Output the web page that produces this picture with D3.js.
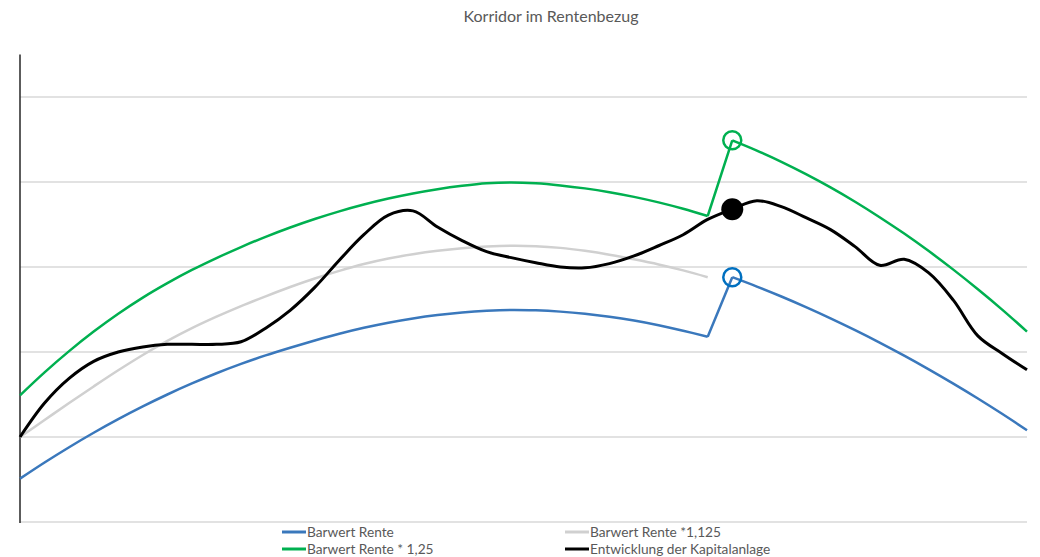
<!DOCTYPE html>
<html>
<head>
<meta charset="utf-8">
<script src="https://cdn.jsdelivr.net/npm/d3@7"></script>
<style>
  body { margin: 0; background: #fff; }
  text { font-family: Lato, "Open Sans", sans-serif; fill: #595959; }
</style>
</head>
<body>
<svg width="1040" height="557"></svg>
<script>
// Categories (years of retirement, no labels shown)
const years = d3.range(42);

// Series values
const barwert = [0.51, 0.70, 0.88, 1.05, 1.21, 1.36, 1.50, 1.63, 1.75, 1.86,
  1.96, 2.05, 2.135, 2.215, 2.285, 2.345, 2.395, 2.435, 2.465, 2.485,
  2.495, 2.49, 2.475, 2.45, 2.415, 2.37, 2.315, 2.25, 2.18, 2.88,
  2.77, 2.653, 2.528, 2.396, 2.257, 2.111, 1.957, 1.796, 1.628, 1.453,
  1.27, 1.08];

const barwert1125 = [1.00, 1.20, 1.40, 1.595, 1.785, 1.965, 2.13, 2.28, 2.415, 2.54,
  2.655, 2.765, 2.865, 2.955, 3.035, 3.10, 3.15, 3.19, 3.22, 3.24,
  3.25, 3.245, 3.225, 3.19, 3.145, 3.09, 3.03, 2.96, 2.88];

const barwert125 = [1.49, 1.76, 2.01, 2.24, 2.45, 2.64, 2.81, 2.965, 3.105, 3.235,
  3.355, 3.465, 3.565, 3.655, 3.735, 3.805, 3.865, 3.915, 3.955, 3.985,
  3.995, 3.985, 3.96, 3.925, 3.88, 3.825, 3.76, 3.685, 3.60, 4.49,
  4.37, 4.238, 4.093, 3.937, 3.768, 3.586, 3.393, 3.187, 2.969, 2.738,
  2.496, 2.24];

const kapital = [1.00, 1.40, 1.69, 1.89, 2.00, 2.06, 2.09, 2.09, 2.09, 2.12,
  2.28, 2.49, 2.76, 3.08, 3.38, 3.61, 3.66, 3.47, 3.31, 3.18,
  3.11, 3.05, 3.00, 2.99, 3.04, 3.13, 3.25, 3.38, 3.56, 3.68,
  3.78, 3.71, 3.58, 3.44, 3.24, 3.02, 3.09, 2.93, 2.61, 2.19,
  1.98, 1.79];

const yTicks = [0, 1, 2, 3, 4, 5];
const markerIndex = 29;

const svg = d3.select("svg");

const x = d3.scalePoint().domain(years).range([20, 1027]);
const y = d3.scaleLinear().domain([0, 5.5]).range([522, 54.5]);

// Gridlines
svg.append("g")
  .selectAll("line")
  .data(yTicks)
  .enter().append("line")
  .attr("x1", 20)
  .attr("x2", 1027)
  .attr("y1", d => y(d))
  .attr("y2", d => y(d))
  .style("stroke", "#d9d9d9")
  .style("stroke-width", 1.5);

// Left axis
svg.append("line")
  .attr("x1", 20).attr("x2", 20)
  .attr("y1", y(5.5)).attr("y2", y(0) + 1)
  .style("stroke", "#262626")
  .style("stroke-width", 1.5);

const series = [
  { name: "Barwert Rente", values: barwert, color: "#3a78bc", width: 2.5, marker: "#0070c0" },
  { name: "Barwert Rente *1,125", values: barwert1125, color: "#d0d0d0", width: 2.5 },
  { name: "Barwert Rente * 1,25", values: barwert125, color: "#00b050", width: 2.5, marker: "#00b050" },
  { name: "Entwicklung der Kapitalanlage", values: kapital, color: "#000000", width: 3, smooth: true, marker: "#000000", filled: true }
];

const pts = vals => vals.map((v, i) => [x(years[i]), y(v)]);
const smooth = d3.curveCatmullRom.alpha(0.5);

series.forEach(s => {
  const p = pts(s.values);
  let pieces;
  if (s.smooth) {
    pieces = [{ d: p, curve: smooth }];
  } else {
    // smooth curve on each side of the jump, straight jump in between
    pieces = [{ d: p.slice(0, markerIndex), curve: smooth }];
    if (p.length > markerIndex) {
      pieces.push({ d: p.slice(markerIndex - 1, markerIndex + 1), curve: d3.curveLinear });
      pieces.push({ d: p.slice(markerIndex), curve: smooth });
    }
  }
  const path = pieces.map(pc => d3.line().curve(pc.curve)(pc.d)).join("");

  svg.append("path")
    .attr("d", path)
    .style("fill", "none")
    .style("stroke", s.color)
    .style("stroke-width", s.width)
    .style("stroke-linejoin", "round");
});

// Markers at the switching year
series.filter(s => s.marker).forEach(s => {
  svg.append("circle")
    .attr("cx", x(years[markerIndex]))
    .attr("cy", y(s.values[markerIndex]))
    .attr("r", s.filled ? 11 : 9)
    .style("fill", s.filled ? s.marker : "none")
    .style("stroke", s.marker)
    .style("stroke-width", s.filled ? 0 : 2.5);
});

// Title
svg.append("text")
  .attr("x", 551)
  .attr("y", 22)
  .attr("text-anchor", "middle")
  .style("font-size", "16px")
  .text("Korridor im Rentenbezug");

// Legend
const legendPos = [
  { x: 282, y: 532 },
  { x: 565, y: 532 },
  { x: 282, y: 549 },
  { x: 565, y: 549 }
];

const legend = svg.append("g")
  .selectAll("g")
  .data(series)
  .enter().append("g")
  .attr("transform", (d, i) => `translate(${legendPos[i].x},${legendPos[i].y})`);

legend.append("line")
  .attr("x1", 0).attr("x2", 24)
  .attr("y1", 0).attr("y2", 0)
  .style("stroke", d => d.color)
  .style("stroke-width", 3);

legend.append("text")
  .attr("x", 25)
  .attr("y", 4.5)
  .style("font-size", "13.7px")
  .text(d => d.name);
</script>
</body>
</html>
